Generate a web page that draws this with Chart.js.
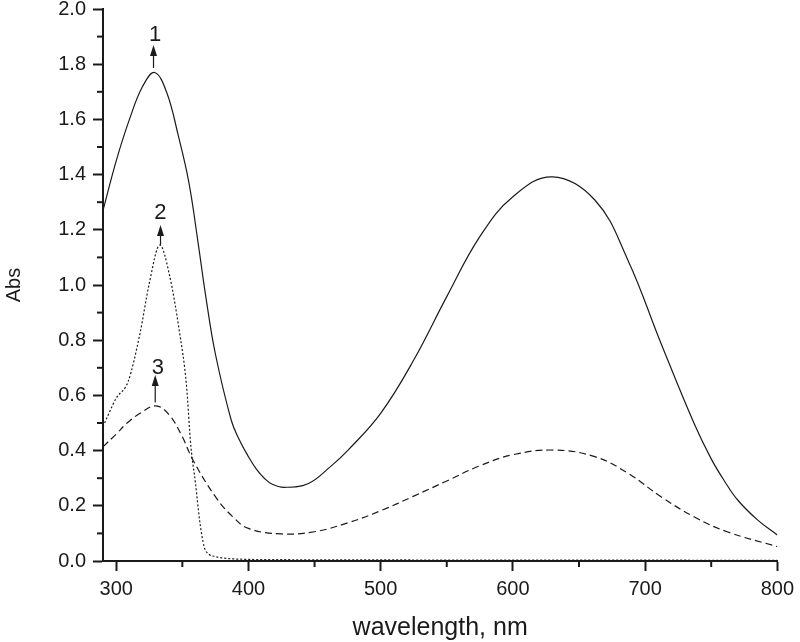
<!DOCTYPE html>
<html>
<head>
<meta charset="utf-8">
<title>Abs spectra</title>
<script src="https://cdn.jsdelivr.net/npm/chart.js@4.4.1/dist/chart.umd.min.js"></script>
<style>
    body { margin: 0; background: #fff; }
    #wrap { width: 800px; height: 642px; position: relative; }
</style>
</head>
<body>
<div id="wrap"><canvas id="spectrum"></canvas></div>
<script>
// curve 1 (solid)
const wl1 = [290, 300, 310, 320, 329, 338, 347, 355, 362, 368, 375, 387, 393, 400, 406, 412, 418, 427, 445, 462, 475, 500, 525, 550, 575, 600, 630, 662, 687, 712, 737, 750, 760, 770, 785, 800];
const abs1 = [1.27, 1.45, 1.60, 1.72, 1.77, 1.70, 1.54, 1.37, 1.15, 0.95, 0.75, 0.51, 0.44, 0.378, 0.333, 0.30, 0.278, 0.267, 0.28, 0.342, 0.40, 0.535, 0.728, 0.958, 1.175, 1.32, 1.392, 1.308, 1.09, 0.789, 0.499, 0.37, 0.29, 0.221, 0.149, 0.094];

// curve 2 (dotted)
const wl2 = [290, 300, 309, 318, 325, 333, 340, 348, 353, 356.5, 360, 363, 366.5, 370, 375, 387, 420, 500, 600, 700, 800];
const abs2 = [0.487, 0.59, 0.65, 0.825, 1.006, 1.145, 1.042, 0.825, 0.644, 0.414, 0.28, 0.15, 0.052, 0.025, 0.016, 0.008, 0.005, 0.004, 0.003, 0.003, 0.002];

// curve 3 (dashed)
const wl3 = [290, 300, 308, 318, 330, 340, 350, 358, 375, 388, 400, 425, 450, 475, 500, 525, 550, 575, 600, 631, 662, 687, 712, 737, 762, 800];
const abs3 = [0.414, 0.46, 0.499, 0.535, 0.562, 0.53, 0.45, 0.366, 0.233, 0.161, 0.118, 0.098, 0.106, 0.138, 0.182, 0.235, 0.29, 0.345, 0.385, 0.402, 0.378, 0.318, 0.233, 0.16, 0.106, 0.052];

const xTickValues = [300, 400, 500, 600, 700, 800];

// peak markers: label, arrow x, arrow start/end, label position
const markText = ["1", "2", "3"];
const markX = [328.2, 333.5, 329.5];
const markFrom = [1.786, 1.145, 0.574];
const markTo = [1.87, 1.217, 0.674];
const markLabelX = [329.4, 333.3, 331.5];
const markLabelY = [1.906, 1.26, 0.701];

const ink = "#1a1a1a";
const fontFamily = "'Liberation Sans', Arial, sans-serif";

function toPoints(xs, ys) {
    return xs.map((x, i) => ({ x: x, y: ys[i] }));
}

// short ticks half way between the labelled ones, plus the arrows and numbers
const extrasPlugin = {
    id: "extras",
    afterDraw(chart) {
        const ctx = chart.ctx;
        const xs = chart.scales.x;
        const ys = chart.scales.y;
        ctx.save();
        ctx.strokeStyle = ink;
        ctx.lineWidth = 2;

        const yt = ys.ticks.map(t => t.value);
        for (let i = 0; i < yt.length - 1; i++) {
            const py = ys.getPixelForValue((yt[i] + yt[i + 1]) / 2);
            ctx.beginPath();
            ctx.moveTo(xs.left - 6, py);
            ctx.lineTo(xs.left, py);
            ctx.stroke();
        }
        const xt = xs.ticks.map(t => t.value);
        for (let i = 0; i < xt.length - 1; i++) {
            const px = xs.getPixelForValue((xt[i] + xt[i + 1]) / 2);
            ctx.beginPath();
            ctx.moveTo(px, ys.bottom);
            ctx.lineTo(px, ys.bottom + 6);
            ctx.stroke();
        }

        ctx.lineWidth = 1.2;
        ctx.fillStyle = ink;
        ctx.textAlign = "center";
        ctx.textBaseline = "middle";
        ctx.font = "22px " + fontFamily;
        markText.forEach((txt, i) => {
            const px = xs.getPixelForValue(markX[i]);
            const y0 = ys.getPixelForValue(markFrom[i]);
            const y1 = ys.getPixelForValue(markTo[i]);
            ctx.beginPath();
            ctx.moveTo(px, y0);
            ctx.lineTo(px, y1 + 8);
            ctx.stroke();
            ctx.beginPath();
            ctx.moveTo(px, y1);
            ctx.lineTo(px - 3.5, y1 + 11);
            ctx.lineTo(px + 3.5, y1 + 11);
            ctx.closePath();
            ctx.fill();
            ctx.fillText(txt, xs.getPixelForValue(markLabelX[i]), ys.getPixelForValue(markLabelY[i]));
        });
        ctx.restore();
    }
};

const lineStyle = {
    borderColor: ink,
    borderWidth: 1.2,
    pointRadius: 0,
    fill: false,
    tension: 0.4
};

new Chart(document.getElementById("spectrum"), {
    type: "line",
    data: {
        datasets: [
            Object.assign({ label: "1", data: toPoints(wl1, abs1) }, lineStyle),
            Object.assign({ label: "2", data: toPoints(wl2, abs2), borderDash: [2, 2], cubicInterpolationMode: "monotone" }, lineStyle),
            Object.assign({ label: "3", data: toPoints(wl3, abs3), borderDash: [7, 4] }, lineStyle)
        ]
    },
    options: {
        responsive: true,
        maintainAspectRatio: false,
        animation: false,
        layout: { padding: { left: 0, right: 17, top: 9, bottom: 0 } },
        plugins: {
            legend: { display: false },
            tooltip: { enabled: false }
        },
        scales: {
            x: {
                type: "linear",
                min: 290,
                max: 800,
                afterBuildTicks: scale => {
                    scale.ticks = xTickValues.map(v => ({ value: v }));
                },
                afterFit: scale => {
                    scale.height = 81;
                    scale.paddingLeft = 0;
                },
                ticks: {
                    color: ink,
                    padding: 6,
                    maxRotation: 0,
                    autoSkip: false,
                    font: { family: fontFamily, size: 20 }
                },
                grid: {
                    drawOnChartArea: false,
                    tickLength: 10,
                    tickWidth: 2,
                    tickColor: ink
                },
                border: { display: true, color: ink, width: 2 },
                title: {
                    display: true,
                    text: "wavelength, nm",
                    color: ink,
                    font: { family: fontFamily, size: 25, lineHeight: 1.1 },
                    padding: { top: 0, bottom: 0 }
                }
            },
            y: {
                min: 0,
                max: 2.0,
                afterFit: scale => {
                    scale.width = 103;
                    scale.paddingTop = 0;
                    scale.paddingBottom = 0;
                },
                ticks: {
                    stepSize: 0.2,
                    color: ink,
                    padding: 7,
                    font: { family: fontFamily, size: 20 },
                    callback: v => v.toFixed(1)
                },
                grid: {
                    drawOnChartArea: false,
                    tickLength: 10,
                    tickWidth: 2,
                    tickColor: ink
                },
                border: { display: true, color: ink, width: 2 },
                title: {
                    display: true,
                    text: "Abs",
                    color: ink,
                    font: { family: fontFamily, size: 20, lineHeight: 1.2 },
                    padding: { top: 2, bottom: 0 }
                }
            }
        }
    },
    plugins: [extrasPlugin]
});
</script>
</body>
</html>
